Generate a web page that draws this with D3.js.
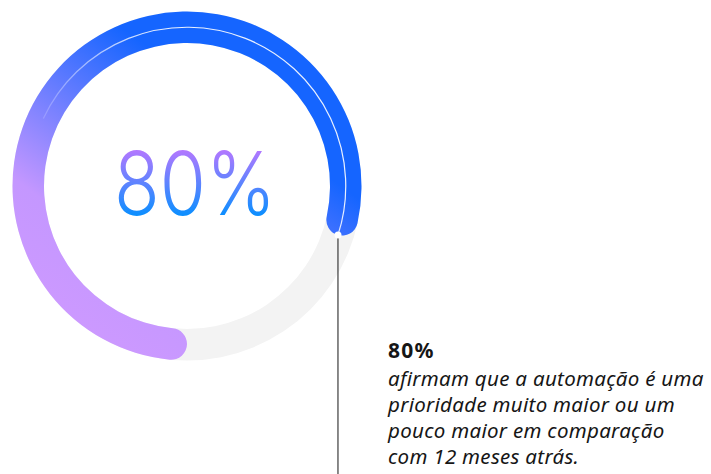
<!DOCTYPE html>
<html>
<head>
<meta charset="utf-8">
<script src="https://cdn.jsdelivr.net/npm/d3@7"></script>
<style>
    html, body { margin: 0; padding: 0; background: #ffffff; }
    #chart { width: 711px; height: 474px; }
</style>
</head>
<body>
<div id="chart"></div>
<script>
// Share of respondents (percent) shown on the ring
const shareValues = [80];
// Total of the scale
const scaleMax = [100];
// Big label in the middle and the callout title
const centerLabels = ['80%'];
// Callout text, one entry per line
const calloutLines = [
    'afirmam que a automação é uma',
    'prioridade muito maior ou um',
    'pouco maior em comparação',
    'com 12 meses atrás.'
];

// Size of the svg frame
const totalWidth = 711;
const totalHeight = 474;

// Ring geometry
const cx = 187;
const cy = 186;
const outerR = 174.5;
const ringWidth = 31.5;
const innerR = outerR - ringWidth;
const midR = outerR - ringWidth / 2;

const svg = d3
    .select('#chart')
    .append('svg')
    .attr('width', totalWidth)
    .attr('height', totalHeight)
    .attr('viewBox', `0 0 ${totalWidth} ${totalHeight}`);

const defs = svg.append('defs');

// Gradient of the ring, purple at the bottom left, blue at the top right
const ringGrad = defs.append('linearGradient')
    .attr('id', 'ringGrad')
    .attr('gradientUnits', 'userSpaceOnUse')
    .attr('x1', 20).attr('y1', 230)
    .attr('x2', 175).attr('y2', 15);
ringGrad.append('stop').attr('offset', '0%').attr('stop-color', '#cc99ff');
ringGrad.append('stop').attr('offset', '30%').attr('stop-color', '#c497ff');
ringGrad.append('stop').attr('offset', '100%').attr('stop-color', '#1565ff');

// Thin white highlight fading in along the ring
const lineGrad = defs.append('linearGradient')
    .attr('id', 'lineGrad')
    .attr('gradientUnits', 'userSpaceOnUse')
    .attr('x1', 30).attr('y1', 140)
    .attr('x2', 150).attr('y2', 20);
lineGrad.append('stop').attr('offset', '0%').attr('stop-color', '#ffffff').attr('stop-opacity', 0.05);
lineGrad.append('stop').attr('offset', '100%').attr('stop-color', '#ffffff').attr('stop-opacity', 0.9);

// Vertical gradient of the big number
const textGrad = defs.append('linearGradient')
    .attr('id', 'textGrad')
    .attr('gradientUnits', 'userSpaceOnUse')
    .attr('x1', 0).attr('y1', 150)
    .attr('x2', 0).attr('y2', 216);
textGrad.append('stop').attr('offset', '0%').attr('stop-color', '#b378ff');
textGrad.append('stop').attr('offset', '100%').attr('stop-color', '#0a8fff');

// Angle scale: the ring starts at the bottom and runs clockwise
const angle = d3.scaleLinear()
    .domain([0, scaleMax[0]])
    .range([Math.PI, 3 * Math.PI]);

const graph = svg.append('g')
    .attr('transform', `translate(${cx}, ${cy})`);

// Grey track
const trackArc = d3.arc()
    .innerRadius(innerR)
    .outerRadius(outerR)
    .startAngle(0)
    .endAngle(2 * Math.PI);

graph.append('path')
    .attr('d', trackArc())
    .attr('fill', '#f3f3f3');

// Value arc with round ends
const valueArc = d3.arc()
    .innerRadius(innerR)
    .outerRadius(outerR)
    .cornerRadius(ringWidth / 2);

const ringG = svg.append('g');
ringG.selectAll('path.value')
    .data(shareValues)
    .enter()
    .append('path')
    .attr('class', 'value')
    .attr('transform', `translate(${cx}, ${cy})`)
    .attr('d', (d) => valueArc({ startAngle: angle(0), endAngle: angle(d) }))
    .attr('fill', 'url(#ringGrad)');

// White highlight line along the middle of the ring
const lineArc = d3.arc()
    .innerRadius(midR)
    .outerRadius(midR);

ringG.selectAll('path.highlight')
    .data(shareValues)
    .enter()
    .append('path')
    .attr('class', 'highlight')
    .attr('transform', `translate(${cx}, ${cy})`)
    .attr('d', (d) => lineArc({ startAngle: angle(32), endAngle: angle(d) }))
    .attr('fill', 'none')
    .attr('stroke', 'url(#lineGrad)')
    .attr('stroke-width', 1.2);

// End point of the value arc
const endPoint = (d) => {
    const a = angle(d);
    return [cx + midR * Math.sin(a), cy - midR * Math.cos(a)];
};

// Leader line from the end point down to the bottom
svg.selectAll('line.leader')
    .data(shareValues)
    .enter()
    .append('line')
    .attr('class', 'leader')
    .attr('x1', (d) => endPoint(d)[0])
    .attr('x2', (d) => endPoint(d)[0])
    .attr('y1', (d) => endPoint(d)[1])
    .attr('y2', totalHeight)
    .attr('stroke', '#161616')
    .attr('stroke-width', 1);

svg.selectAll('circle.end')
    .data(shareValues)
    .enter()
    .append('circle')
    .attr('class', 'end')
    .attr('cx', (d) => endPoint(d)[0])
    .attr('cy', (d) => endPoint(d)[1])
    .attr('r', 3.5)
    .attr('fill', '#ffffff');

// Big number in the middle
svg.append('text')
    .attr('x', cx + 8)
    .attr('y', 215)
    .attr('text-anchor', 'middle')
    .attr('fill', 'url(#textGrad)')
    .attr('textLength', 162)
    .attr('lengthAdjust', 'spacingAndGlyphs')
    .style('font-family', 'Inter, "Noto Sans", sans-serif')
    .style('font-weight', 300)
    .style('font-size', '88px')
    .text(centerLabels[0]);

// Callout title
svg.append('text')
    .attr('x', 388)
    .attr('y', 358)
    .attr('fill', '#161616')
    .style('font-family', '"Noto Sans", "Open Sans", sans-serif')
    .style('font-weight', 700)
    .style('font-size', '21px')
    .style('letter-spacing', '1.2px')
    .text(centerLabels[0]);

// Callout text lines
svg.append('g')
    .selectAll('text')
    .data(calloutLines)
    .enter()
    .append('text')
    .attr('x', 388)
    .attr('y', (d, i) => 386 + i * 26)
    .attr('fill', '#161616')
    .style('font-family', '"Noto Sans", "Open Sans", sans-serif')
    .style('font-style', 'italic')
    .style('font-size', '20.5px')
    .style('letter-spacing', '0.3px')
    .text((d) => d);
</script>
</body>
</html>
